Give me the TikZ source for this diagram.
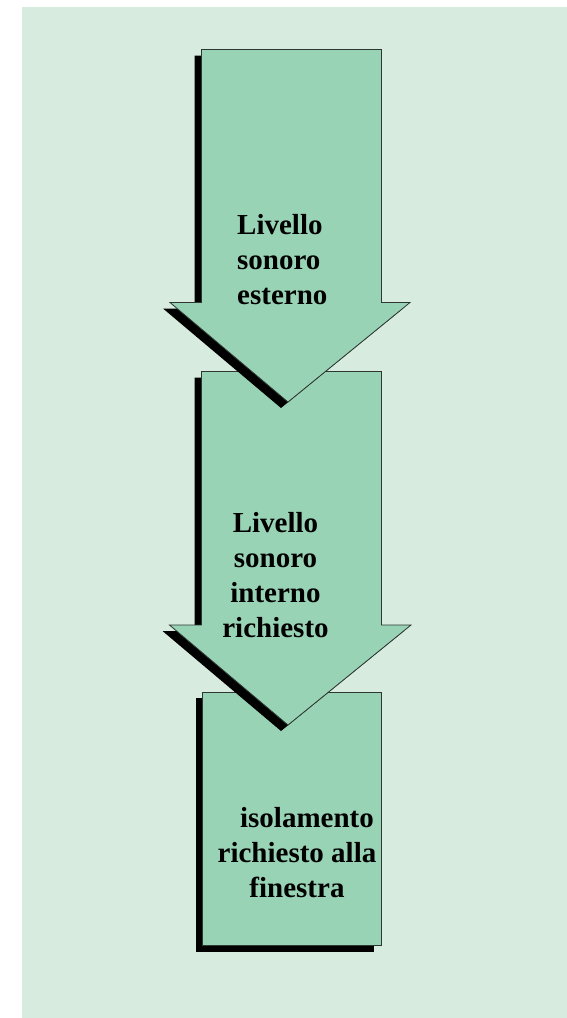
\documentclass[tikz,border=0pt]{standalone}
\usepackage{fontspec}
\setmainfont{Liberation Serif}
\definecolor{bg}{RGB}{216,235,223}
\definecolor{boxgreen}{RGB}{153,211,181}
\definecolor{edgegray}{RGB}{45,55,50}
\begin{document}
\begin{tikzpicture}[x=1pt,y=-1pt,
  shapebody/.style={fill=boxgreen,draw=edgegray,line width=0.8pt,line join=miter},
  shadowbody/.style={fill=black},
  shadowshift/.style={shift={(-7,6)}},
  txt/.style={font=\bfseries\fontsize{29}{35}\selectfont,inner sep=0pt,text=black}]
\useasboundingbox (0,0) rectangle (567,1018);
\fill[bg] (22,7) rectangle (567,1018);
% bottom box
\fill[shadowbody,shadowshift] (202.5,692) rectangle (381,945.5);
\draw[shapebody] (202.5,692) rectangle (381,945.5);
% second arrow
\fill[shadowbody,shadowshift] (201.5,371.5) -- (381.5,371.5) -- (381.5,625) -- (411,625) -- (288,725) -- (169.5,625) -- (201.5,625) -- cycle;
\draw[shapebody] (201.5,371.5) -- (381.5,371.5) -- (381.5,625) -- (411,625) -- (288,725) -- (169.5,625) -- (201.5,625) -- cycle;
% first arrow
\fill[shadowbody,shadowshift] (201.5,49.5) -- (381.5,49.5) -- (381.5,302.5) -- (410,302.5) -- (288,402) -- (170,302.5) -- (201.5,302.5) -- cycle;
\draw[shapebody] (201.5,49.5) -- (381.5,49.5) -- (381.5,302.5) -- (410,302.5) -- (288,402) -- (170,302.5) -- (201.5,302.5) -- cycle;
% texts
\node[txt,anchor=north west,align=left] (t1) at (237,214) {Livello\\sonoro\\esterno};
\node[txt,anchor=north,align=center] (t2) at (275.5,512) {Livello\\sonoro\\interno\\richiesto};
\node[txt,anchor=north,align=center] (t3) at (297,807) {\hspace*{20pt}isolamento\\richiesto alla\\finestra};
\end{tikzpicture}
\end{document}
